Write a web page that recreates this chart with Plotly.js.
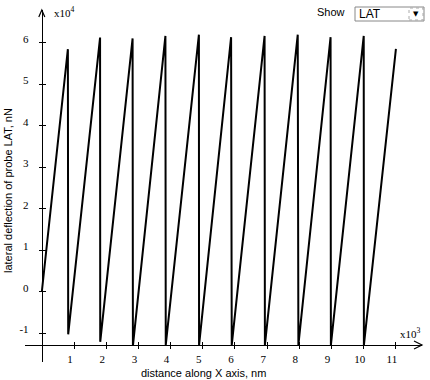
<!DOCTYPE html>
<html><head><meta charset="utf-8">
<script src="https://cdn.plot.ly/plotly-3.0.1.min.js"></script>
<style>html,body{margin:0;padding:0;background:#fff}#chart{width:430px;height:380px}</style>
</head><body><div id="chart"></div>
<script>
// distance along X axis, nm
const distance_nm = [0, 810, 820, 1810, 1815, 2820, 2830, 3840, 3850, 4880, 4885,
  5880, 5900, 6920, 6930, 7950, 7970, 8970, 8980, 10000, 10005, 11000];
// lateral deflection of probe LAT, nN
const lat_nN = [0, 58500, -10200, 61300, -12000, 61100, -13000, 61700, -12800, 62000, -12800,
  61400, -12800, 61700, -12800, 62000, -12800, 61400, -12800, 61700, -12800, 58600];

const xTickVals = [1000, 2000, 3000, 4000, 5000, 6000, 7000, 8000, 9000, 10000, 11000];
const xTickText = ['1', '2', '3', '4', '5', '6', '7', '8', '9', '10', '11'];
const yTickVals = [-10000, 0, 10000, 20000, 30000, 40000, 50000, 60000];
const yTickText = ['-1', '0', '1', '2', '3', '4', '5', '6'];
const menuOptions = ['LAT'];

const W = 430, H = 380, L = 25, R = 8, T = 10, B = 18;
const xRange = [-522, 11810], yRange = [-16870, 67950];
const xAxisAtY = -12770, yAxisAtX = 0;
const yPos = (yAxisAtX - xRange[0]) / (xRange[1] - xRange[0]);
const xPos = (xAxisAtY - yRange[0]) / (yRange[1] - yRange[0]);
// pixel -> paper helpers (for decorations only)
const px = v => (v - L) / (W - L - R);
const py = v => (H - B - v) / (H - T - B);
const pathPx = pts => pts.map((p, i) => (i ? 'L' : 'M') + px(p[0]).toFixed(5) + ',' + py(p[1]).toFixed(5)).join(' ');

const serif = {family: 'Liberation Serif, Times New Roman, serif', size: 11, color: '#000'};
const sans = {family: 'Liberation Sans, Arial, sans-serif', size: 11, color: '#000'};

const data = [
  {x: distance_nm, y: lat_nN, type: 'scatter', mode: 'lines',
   line: {color: '#000', width: 2}, hoverinfo: 'x+y', showlegend: false},
  {x: [], y: [], xaxis: 'x2', yaxis: 'y2', type: 'scatter', mode: 'lines',
   showlegend: false, hoverinfo: 'skip'}
];

const common = {showgrid: false, zeroline: false, ticks: 'outside', ticklen: 3,
  tickcolor: '#000', tickwidth: 1, fixedrange: true};

// axis positions in pixels for arrowheads
const yAxisPx = L + yPos * (W - L - R);
const xAxisPx = H - B - xPos * (H - T - B);

const layout = {
  width: W, height: H,
  margin: {l: L, r: R, t: T, b: B, pad: 0},
  paper_bgcolor: '#fff', plot_bgcolor: '#fff',
  showlegend: false,
  xaxis: Object.assign({}, common, {range: xRange, anchor: 'free', position: xPos,
    showline: true, linecolor: '#000', linewidth: 1,
    tickvals: xTickVals, ticktext: xTickText, tickfont: serif,
    ticklabelstandoff: 1, ticklabelshift: -4}),
  xaxis2: Object.assign({}, common, {range: xRange, overlaying: 'x', side: 'top',
    anchor: 'free', position: xPos, showline: false,
    tickvals: xTickVals, showticklabels: false}),
  yaxis: Object.assign({}, common, {range: yRange, anchor: 'free', position: yPos,
    showline: true, linecolor: '#000', linewidth: 1,
    tickvals: yTickVals, ticktext: yTickText, tickfont: serif,
    ticklabelstandoff: 8, ticklabelshift: -4}),
  yaxis2: Object.assign({}, common, {range: yRange, overlaying: 'y', side: 'right',
    anchor: 'free', position: yPos, showline: false,
    tickvals: yTickVals, showticklabels: false}),
  shapes: [
    // axis arrowheads
    {type: 'path', xref: 'paper', yref: 'paper', path: pathPx([[yAxisPx - 3, T + 7], [yAxisPx, T], [yAxisPx + 3, T + 7]]),
     line: {color: '#000', width: 1.2}},
    {type: 'path', xref: 'paper', yref: 'paper', path: pathPx([[W - R - 8, xAxisPx - 4], [W - R, xAxisPx], [W - R - 8, xAxisPx + 4]]),
     line: {color: '#000', width: 1.2}},
    // dropdown box
    {type: 'rect', xref: 'paper', yref: 'paper', x0: px(355), x1: px(424), y0: py(21), y1: py(7),
     line: {color: '#888', width: 1}, fillcolor: '#fff'},
    {type: 'rect', xref: 'paper', yref: 'paper', x0: px(409), x1: px(423), y0: py(20), y1: py(8),
     line: {color: '#aaa', width: 1, dash: 'dot'}, fillcolor: '#fff'}
  ],
  annotations: [
    {text: 'x10<sup>4</sup>', xref: 'paper', yref: 'paper', x: px(52), y: py(12),
     xanchor: 'left', yanchor: 'middle', showarrow: false, font: serif},
    {text: 'x10<sup>3</sup>', xref: 'paper', yref: 'paper', x: px(398), y: py(333),
     xanchor: 'left', yanchor: 'middle', showarrow: false, font: serif},
    {text: 'distance along X axis, nm', xref: 'paper', yref: 'paper', x: px(203.5), y: py(373),
     xanchor: 'center', yanchor: 'middle', showarrow: false, font: sans},
    {text: 'lateral deflection of probe LAT, nN', xref: 'paper', yref: 'paper', x: px(8), y: py(191),
     xanchor: 'center', yanchor: 'middle', showarrow: false, textangle: -90, font: sans},
    {text: 'Show', xref: 'paper', yref: 'paper', x: px(331), y: py(12),
     xanchor: 'center', yanchor: 'middle', showarrow: false, font: sans},
    {text: menuOptions[0], xref: 'paper', yref: 'paper', x: px(357), y: py(14),
     xanchor: 'left', yanchor: 'middle', showarrow: false,
     font: {family: sans.family, size: 12, color: '#000'}},
    {text: '\u25BC', xref: 'paper', yref: 'paper', x: px(416), y: py(14),
     xanchor: 'center', yanchor: 'middle', showarrow: false,
     font: {family: 'DejaVu Sans, sans-serif', size: 7, color: '#000'}}
  ]
};

Plotly.newPlot('chart', data, layout, {displayModeBar: false});
</script>
</body></html>
